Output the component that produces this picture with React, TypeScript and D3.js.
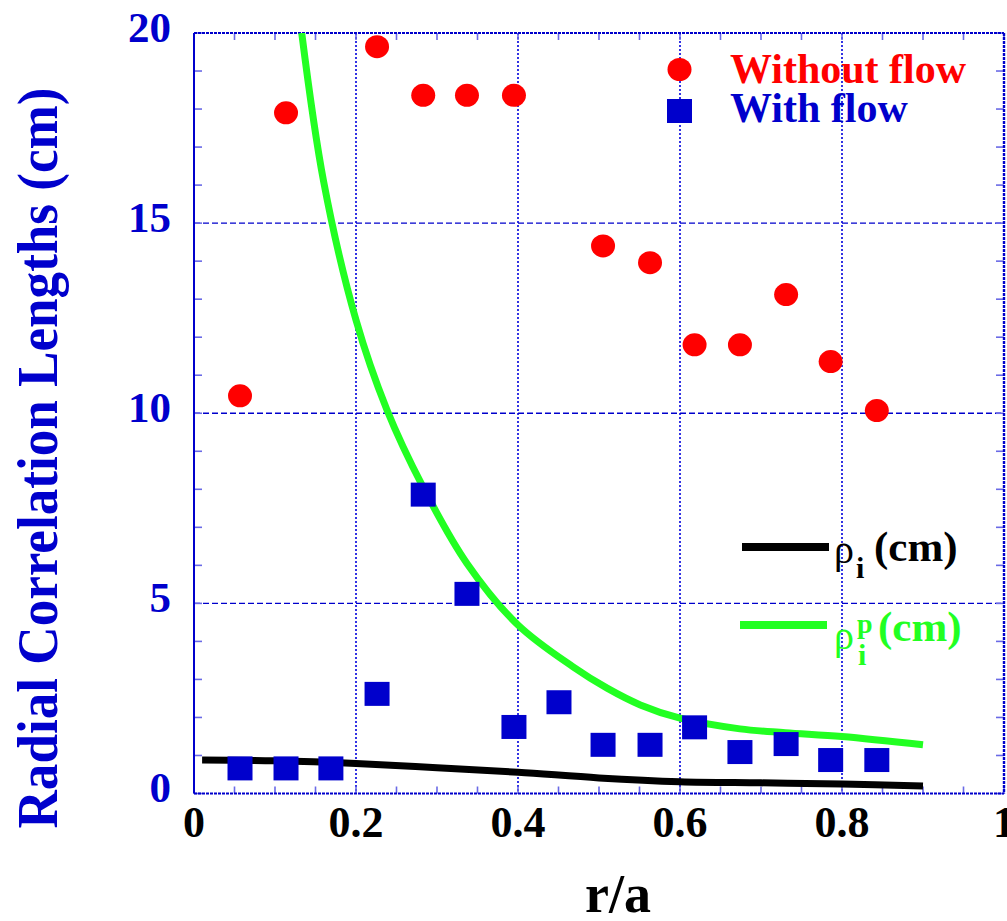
import React from "react";
import * as d3 from "d3";

// r/a positions of the measurement points
const radii = [0.0568, 0.1136, 0.169, 0.226, 0.283, 0.337, 0.395, 0.4506, 0.505, 0.563, 0.618, 0.674, 0.731, 0.786, 0.843];

// Without flow (cm); null where no point was measured
const withoutFlow: (number | null)[] = [10.46, 17.9, null, 19.64, 18.36, 18.36, 18.36, null, 14.4, 13.96, 11.8, 11.8, 13.12, 11.36, 10.07];

// With flow (cm)
const withFlow = [0.66, 0.66, 0.66, 2.62, 7.86, 5.25, 1.75, 2.4, 1.28, 1.28, 1.74, 1.09, 1.3, 0.88, 0.88];

// Ion gyroradius rho_i (cm)
const rhoI: [number, number][] = [
  [0.01, 0.88], [0.1, 0.86], [0.2, 0.79], [0.3, 0.68], [0.4, 0.56],
  [0.5, 0.41], [0.6, 0.31], [0.7, 0.28], [0.8, 0.25], [0.9, 0.2],
];

// Poloidal ion gyroradius rho^p_i (cm)
const rhoPI: [number, number][] = [
  [0.133, 20], [0.16, 16.1], [0.2, 12.45], [0.238, 10.1], [0.283, 8.05],
  [0.337, 6.05], [0.4, 4.43], [0.468, 3.33], [0.51, 2.77],
  [0.551, 2.33], [0.6, 1.98], [0.674, 1.7], [0.73, 1.6], [0.8, 1.5], [0.9, 1.28],
];

const xTickLabels = [0, 0.2, 0.4, 0.6, 0.8, 1];
const yTickLabels = [0, 5, 10, 15, 20];
const xGrid = [0.2, 0.4, 0.6, 0.8];
const yGrid = [5, 10, 15];

const W = 1007;
const H = 921;
const left = 194;
const right = 1004;
const top = 33;
const bottom = 793.5;

const RED = "#ff0000";
const BLUE = "#0000cc";
const GREEN = "#22ff22";
const TICK = "#6a6ae6";
const SERIF = "'Liberation Serif', 'Times New Roman', Times, serif";

export default function App() {
  const x = d3.scaleLinear().domain([0, 1]).range([left, right]);
  const y = d3.scaleLinear().domain([0, 20]).range([bottom, top]);

  const line = d3
    .line<[number, number]>()
    .x((d) => x(d[0]))
    .y((d) => y(d[1]))
    .curve(d3.curveCatmullRom.alpha(0.5));

  const xMinor = d3.range(0, 21).map((i) => i * 0.05);
  const yMinor = d3.range(0, 21);

  return (
    <svg
      width={W}
      height={H}
      style={{ position: "absolute", left: 0, top: 0, background: "#fff" }}
      fontFamily={SERIF}
    >
      <defs>
        <clipPath id="plot">
          <rect x={left} y={top} width={right - left} height={bottom - top} />
        </clipPath>
      </defs>

      {/* grid */}
      {xGrid.map((v) => (
        <line key={"gx" + v} x1={x(v)} x2={x(v)} y1={top} y2={bottom} stroke="#0000dd" strokeWidth={1.6} strokeDasharray="2,2" />
      ))}
      {yGrid.map((v) => (
        <line key={"gy" + v} x1={left} x2={right} y1={y(v)} y2={y(v)} stroke="#0000cc" strokeWidth={1.3} strokeDasharray="6,3" />
      ))}

      {/* minor ticks on all four sides */}
      {xMinor.map((v) => (
        <g key={"tx" + v}>
          <line x1={x(v)} x2={x(v)} y1={bottom} y2={bottom - 7} stroke={TICK} strokeWidth={1.6} />
          <line x1={x(v)} x2={x(v)} y1={top} y2={top + 7} stroke={TICK} strokeWidth={1.6} />
        </g>
      ))}
      {yMinor.map((v) => (
        <g key={"ty" + v}>
          <line x1={left} x2={left + 8} y1={y(v)} y2={y(v)} stroke={TICK} strokeWidth={1.6} />
          <line x1={right} x2={right - 8} y1={y(v)} y2={y(v)} stroke={TICK} strokeWidth={1.6} />
        </g>
      ))}

      {/* frame */}
      <line x1={left} x2={left} y1={top} y2={bottom} stroke={BLUE} strokeWidth={2} />
      <line x1={left} x2={right} y1={bottom} y2={bottom} stroke={BLUE} strokeWidth={2} strokeDasharray="3,1" />
      <line x1={left} x2={right} y1={top} y2={top} stroke={BLUE} strokeWidth={2} strokeDasharray="3,1" />
      <line x1={right} x2={right} y1={top} y2={bottom} stroke={BLUE} strokeWidth={2.4} strokeDasharray="3,1" />

      {/* curves */}
      <g clipPath="url(#plot)">
        <path d={line(rhoPI) ?? ""} fill="none" stroke={GREEN} strokeWidth={7} />
        <path d={line(rhoI) ?? ""} fill="none" stroke="#000" strokeWidth={7} />
      </g>

      {/* without flow */}
      {radii.map((r, i) =>
        withoutFlow[i] == null ? null : (
          <ellipse key={"c" + i} cx={x(r)} cy={y(withoutFlow[i] as number)} rx={12} ry={11.5} fill={RED} />
        )
      )}
      {/* with flow */}
      {radii.map((r, i) => (
        <rect key={"s" + i} x={x(r) - 12.5} y={y(withFlow[i]) - 12} width={25} height={24} fill={BLUE} />
      ))}

      {/* tick labels */}
      {xTickLabels.map((v) => (
        <text key={"lx" + v} x={x(v)} y={837} textAnchor="middle" fontSize={44} fontWeight="bold" fill="#000">
          {String(v)}
        </text>
      ))}
      {yTickLabels.map((v) => (
        <text key={"ly" + v} x={171} y={y(v) + 8.5} textAnchor="end" fontSize={43} fontWeight="bold" fill={BLUE}>
          {String(v)}
        </text>
      ))}

      {/* axis titles */}
      <text x={618} y={912} textAnchor="middle" fontSize={54} fontWeight="bold" fill="#000">
        r/a
      </text>
      <text
        transform="translate(57,458) rotate(-90)"
        textAnchor="middle"
        fontSize={58}
        fontWeight="bold"
        fill={BLUE}
        textLength={741}
        lengthAdjust="spacingAndGlyphs"
      >
        Radial Correlation Lengths (cm)
      </text>

      {/* legend: markers */}
      <ellipse cx={679.5} cy={69.5} rx={12} ry={11.5} fill={RED} />
      <text x={730} y={83} fontSize={42} fontWeight="bold" fill={RED}>
        Without flow
      </text>
      <rect x={667} y={99} width={25} height={24} fill={BLUE} />
      <text x={730} y={122} fontSize={42} fontWeight="bold" fill={BLUE}>
        With flow
      </text>

      {/* legend: lines */}
      <line x1={742} x2={829} y1={547} y2={547} stroke="#000" strokeWidth={8} />
      <text x={834} y={563} fontSize={40} fill="#000">ρ</text>
      <text x={856} y={578} fontSize={30} fontWeight="bold" fill="#000">i</text>
      <text x={874} y={561} fontSize={43} fontWeight="bold" fill="#000">(cm)</text>

      <line x1={740} x2={827} y1={625} y2={625} stroke={GREEN} strokeWidth={8} />
      <text x={834} y={649} fontSize={40} fill={GREEN}>ρ</text>
      <text x={857} y={633} fontSize={28} fontWeight="bold" fill={GREEN}>p</text>
      <text x={858} y={665} fontSize={30} fontWeight="bold" fill={GREEN}>i</text>
      <text x={878} y={641} fontSize={43} fontWeight="bold" fill={GREEN}>(cm)</text>
    </svg>
  );
}
